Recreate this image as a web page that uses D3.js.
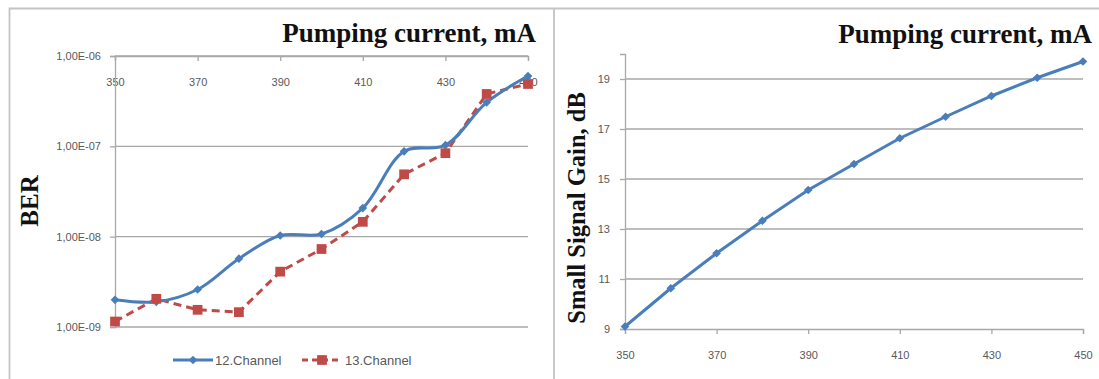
<!DOCTYPE html>
<html>
<head>
<meta charset="utf-8">
<script src="https://cdn.jsdelivr.net/npm/d3@7"></script>
<style>
  body { margin: 0; background: #fff; }
  svg { display: block; }
  .tick text { font-family: "Liberation Sans", Arial, sans-serif; font-size: 11px; fill: #595959; }
</style>
</head>
<body>
<svg id="chart" width="1099" height="379"></svg>
<script>
// Pumping current, mA (shared by both panels)
const currents = [350, 360, 370, 380, 390, 400, 410, 420, 430, 440, 450];
// Bit error rate per channel
const ber12 = [2.0e-9, 1.9e-9, 2.6e-9, 5.7e-9, 1.03e-8, 1.07e-8, 2.07e-8, 8.8e-8, 1.03e-7, 3.07e-7, 6.0e-7];
const ber13 = [1.15e-9, 2.05e-9, 1.55e-9, 1.46e-9, 4.1e-9, 7.3e-9, 1.46e-8, 4.9e-8, 8.4e-8, 3.8e-7, 4.9e-7];
// Small signal gain, dB
const gain = [9.1, 10.63, 12.03, 13.33, 14.56, 15.6, 16.63, 17.49, 18.32, 19.05, 19.7];

const seriesNames = ["12.Channel", "13.Channel"];
const berTicks = [1e-9, 1e-8, 1e-7, 1e-6];
const berTickLabels = ["1,00E-09", "1,00E-08", "1,00E-07", "1,00E-06"];
const currentTicks = [350, 370, 390, 410, 430, 450];
const gainTicks = [9, 11, 13, 15, 17, 19];
const titleText = "Pumping current, mA";
const berLabel = "BER";
const gainLabel = "Small Signal Gain, dB";

const BLUE = "#4a7ebb";
const RED = "#be4b48";
const GRID = "#a8a8a8";
const FRAME = "#c4c4c4";

const svg = d3.select("#chart");

// panel frames
svg.append("path")
  .attr("d", "M9.5,379 V8.5 H1099 M554,8.5 V379")
  .attr("fill", "none").attr("stroke", FRAME).attr("stroke-width", 1.8);

function styleAxis(g) {
  g.select(".domain").attr("stroke", GRID).attr("stroke-width", 1.3);
  g.selectAll(".tick line").attr("stroke", GRID).attr("stroke-width", 1.3);
}

function diamond(sel, x, y, color, size) {
  sel.append("path")
    .attr("d", d3.symbol(d3.symbolSquare, size)())
    .attr("transform", `translate(${x},${y}) rotate(45)`)
    .attr("fill", color);
}

// ---------- Left panel: BER vs pumping current ----------
const L = { left: 115, right: 528, top: 56, bottom: 327 };
const xL = d3.scaleLinear().domain([350, 450]).range([L.left, L.right]);
const yL = d3.scaleLog().domain([1e-9, 1e-6]).range([L.bottom, L.top]);

const left = svg.append("g");

// horizontal gridlines at each decade
left.append("g").selectAll("line").data(berTicks).join("line")
  .attr("x1", L.left).attr("x2", L.right)
  .attr("y1", d => yL(d)).attr("y2", d => yL(d))
  .attr("stroke", GRID).attr("stroke-width", 1.3);

// category axis drawn along the top edge, labels below it
left.append("g")
  .attr("transform", `translate(0,${L.top})`)
  .call(d3.axisBottom(xL).tickValues(currentTicks).tickSize(5).tickPadding(17).tickFormat(d3.format("d")))
  .call(styleAxis);

left.append("g")
  .attr("transform", `translate(${L.left},0)`)
  .call(d3.axisLeft(yL).tickValues(berTicks).tickSize(5).tickPadding(9)
    .tickFormat((d, i) => berTickLabels[i]))
  .call(styleAxis);

const lineL = d3.line().x((d, i) => xL(currents[i])).y(d => yL(d));

left.append("path").datum(ber13)
  .attr("d", lineL.curve(d3.curveLinear))
  .attr("fill", "none").attr("stroke", RED).attr("stroke-width", 3)
  .attr("stroke-dasharray", "8,5");

left.append("path").datum(ber12)
  .attr("d", d3.line().x((d, i) => xL(currents[i])).y(d => yL(d)).curve(d3.curveCatmullRom.alpha(0.5)))
  .attr("fill", "none").attr("stroke", BLUE).attr("stroke-width", 3);

ber12.forEach((v, i) => diamond(left, xL(currents[i]), yL(v), BLUE, 38));
left.append("g").selectAll("path").data(ber13).join("path")
  .attr("d", d3.symbol(d3.symbolSquare, 95)())
  .attr("transform", (d, i) => `translate(${xL(currents[i])},${yL(d)})`)
  .attr("fill", RED);

left.append("text")
  .attr("x", 536).attr("y", 42).attr("text-anchor", "end")
  .attr("font-family", "Liberation Serif, 'Times New Roman', serif")
  .attr("font-weight", "bold").attr("font-size", 27).attr("fill", "#111")
  .text(titleText);

left.append("text")
  .attr("transform", "translate(38,201) rotate(-90)")
  .attr("text-anchor", "middle")
  .attr("font-family", "Liberation Serif, 'Times New Roman', serif")
  .attr("font-weight", "bold").attr("font-size", 25).attr("fill", "#111")
  .text(berLabel);

// legend
const legY = 360;
const leg = left.append("g");
leg.append("line").attr("x1", 173).attr("x2", 213).attr("y1", legY).attr("y2", legY)
  .attr("stroke", BLUE).attr("stroke-width", 3);
diamond(leg, 193, legY, BLUE, 38);
leg.append("text").attr("x", 215).attr("y", legY + 4.5)
  .attr("font-family", "Liberation Sans, Arial, sans-serif").attr("font-size", 13).attr("fill", "#595959")
  .text(seriesNames[0]);
leg.append("line").attr("x1", 302).attr("x2", 342).attr("y1", legY).attr("y2", legY)
  .attr("stroke", RED).attr("stroke-width", 3).attr("stroke-dasharray", "6,4");
leg.append("path").attr("d", d3.symbol(d3.symbolSquare, 95)())
  .attr("transform", `translate(322,${legY})`).attr("fill", RED);
leg.append("text").attr("x", 345).attr("y", legY + 4.5)
  .attr("font-family", "Liberation Sans, Arial, sans-serif").attr("font-size", 13).attr("fill", "#595959")
  .text(seriesNames[1]);

// ---------- Right panel: small signal gain vs pumping current ----------
const R = { left: 625, right: 1083, top: 54, bottom: 329 };
const xR = d3.scaleLinear().domain([350, 450]).range([R.left, R.right]);
const yR = d3.scaleLinear().domain([9, 20]).range([R.bottom, R.top]);

const right = svg.append("g");

right.append("g").selectAll("line").data(gainTicks.slice(1)).join("line")
  .attr("x1", R.left).attr("x2", R.right)
  .attr("y1", d => yR(d)).attr("y2", d => yR(d))
  .attr("stroke", GRID).attr("stroke-width", 1.3);

right.append("g")
  .attr("transform", `translate(0,${R.bottom})`)
  .call(d3.axisBottom(xR).tickValues(currentTicks).tickSize(5).tickPadding(17).tickFormat(d3.format("d")))
  .call(styleAxis);

right.append("g")
  .attr("transform", `translate(${R.left},0)`)
  .call(d3.axisLeft(yR).tickValues(gainTicks).tickSize(5).tickPadding(10).tickFormat(d3.format("d")))
  .call(styleAxis);

right.append("path").datum(gain)
  .attr("d", d3.line().x((d, i) => xR(currents[i])).y(d => yR(d)))
  .attr("fill", "none").attr("stroke", BLUE).attr("stroke-width", 3);

gain.forEach((v, i) => diamond(right, xR(currents[i]), yR(v), BLUE, 38));

right.append("text")
  .attr("x", 1092).attr("y", 43).attr("text-anchor", "end")
  .attr("font-family", "Liberation Serif, 'Times New Roman', serif")
  .attr("font-weight", "bold").attr("font-size", 27).attr("fill", "#111")
  .text(titleText);

right.append("text")
  .attr("transform", "translate(585,208) rotate(-90)")
  .attr("text-anchor", "middle")
  .attr("font-family", "Liberation Serif, 'Times New Roman', serif")
  .attr("font-weight", "bold").attr("font-size", 24.5).attr("fill", "#111")
  .text(gainLabel);
</script>
</body>
</html>
